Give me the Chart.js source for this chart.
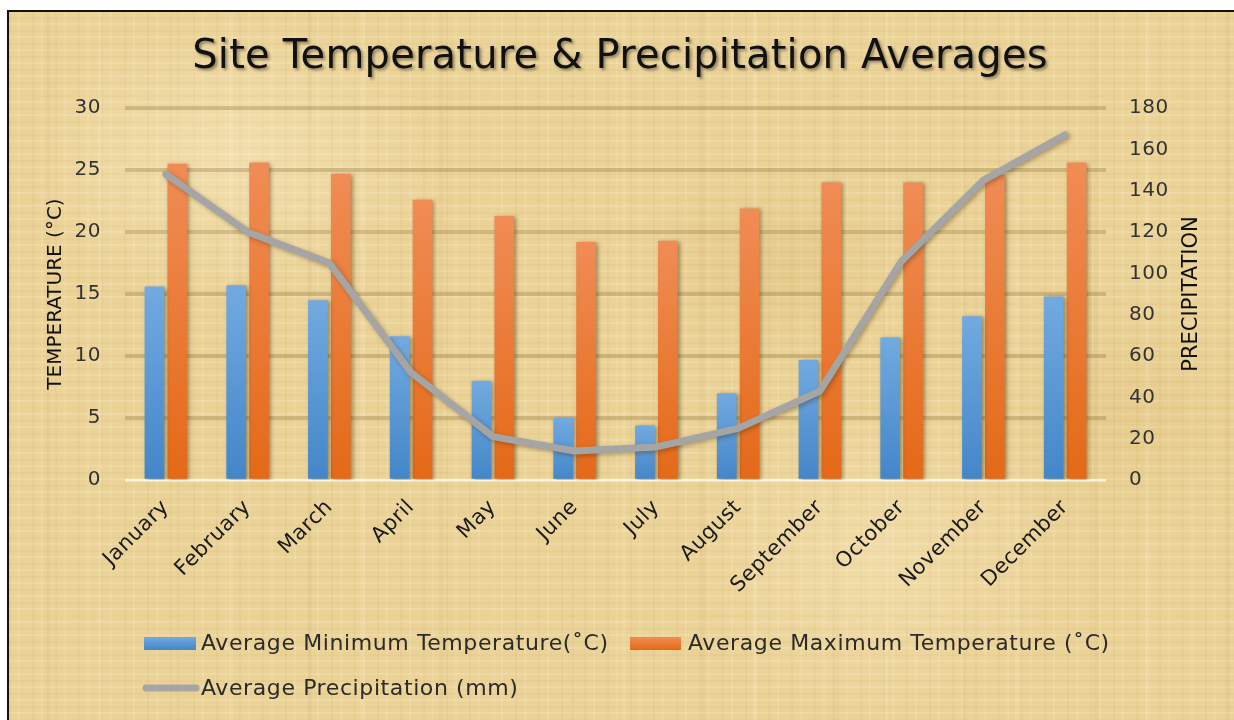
<!DOCTYPE html>
<html>
<head>
<meta charset="utf-8">
<title>Site Temperature &amp; Precipitation Averages</title>
<script src="https://cdn.jsdelivr.net/npm/chart.js@4.4.1/dist/chart.umd.min.js"></script>
<style>
  html, body { margin: 0; padding: 0; background: #ffffff; }
  body { width: 1234px; height: 720px; overflow: hidden; position: relative; }
  #paper {
    position: absolute; left: 7px; top: 10px; width: 1240px; height: 730px;
    box-sizing: border-box;
    border-left: 2px solid #111; border-top: 2px solid #111;
    background-color: #ebd398;
    background-image:
      radial-gradient(ellipse 300px 200px at 18% 20%, rgba(255,245,215,0.35), transparent 70%),
      radial-gradient(ellipse 260px 220px at 70% 75%, rgba(255,240,205,0.30), transparent 70%),
      radial-gradient(ellipse 220px 160px at 62% 35%, rgba(200,160,80,0.18), transparent 70%),
      radial-gradient(ellipse 240px 200px at 90% 55%, rgba(205,165,85,0.16), transparent 70%),
      repeating-linear-gradient(90deg, transparent 0 37px, rgba(175,135,60,0.07) 37px 41px, transparent 41px 89px, rgba(255,248,225,0.12) 89px 93px, transparent 93px 131px),
      repeating-linear-gradient(0deg, rgba(255,250,230,0.16) 0 2px, transparent 2px 6px, rgba(170,130,60,0.06) 6px 8px, transparent 8px 13px),
      repeating-linear-gradient(90deg, rgba(170,130,60,0.07) 0 2px, transparent 2px 9px, rgba(255,250,230,0.12) 9px 11px, transparent 11px 23px);
  }
  #c { position: absolute; left: 0; top: 0; }
</style>
</head>
<body>
<div id="paper"></div>
<canvas id="c" width="1234" height="720"></canvas>
<script>
// Monthly averages for the site
const months = ['January', 'February', 'March', 'April', 'May', 'June',
                'July', 'August', 'September', 'October', 'November', 'December'];
const minTemp = [15.6, 15.7, 14.5, 11.6, 8.0, 5.0, 4.4, 7.0, 9.7, 11.5, 13.2, 14.8];
const maxTemp = [25.5, 25.6, 24.7, 22.6, 21.3, 19.2, 19.3, 21.9, 24.0, 24.0, 24.6, 25.6];
const precipitation = [148, 120, 105, 52, 21, 14, 16, 25, 43, 106, 145, 167];

// Axis ranges
const tempAxis = { min: 0, max: 30, step: 5 };
const precipAxis = { min: 0, max: 180, step: 20 };

const seriesNames = ['Average Minimum Temperature(\u02DAC)',
                     'Average Maximum Temperature (\u02DAC)',
                     'Average Precipitation (mm)'];

const FONT = "'DejaVu Sans', Verdana, sans-serif";
const BLUE = ['#72aae0', '#4386c8'];
const ORANGE = ['#f08c55', '#e46917'];
const GREY = '#a5a5a5';

// Vertical gradient running from the top of each bar down to the baseline
function barFill(colors) {
  return (ctx) => {
    const chart = ctx.chart;
    if (!chart.chartArea || ctx.type !== 'data') return colors[1];
    const ys = chart.scales.y;
    const yTop = ys.getPixelForValue(ctx.dataset.data[ctx.dataIndex]);
    const yBase = ys.getPixelForValue(0);
    if (!isFinite(yTop) || !isFinite(yBase) || yTop === yBase) return colors[1];
    const g = chart.ctx.createLinearGradient(0, yTop, 0, yBase);
    g.addColorStop(0, colors[0]);
    g.addColorStop(1, colors[1]);
    return g;
  };
}

// Soft drop shadow under every series
const shadowPlugin = {
  id: 'shadow',
  beforeDatasetDraw(chart, args) {
    const c = chart.ctx;
    c.save();
    const isLine = chart.data.datasets[args.index].type === 'line';
    c.shadowColor = isLine ? 'rgba(60,40,10,0.35)' : 'rgba(60,40,10,0.45)';
    c.shadowBlur = 4;
    c.shadowOffsetX = 2;
    c.shadowOffsetY = isLine ? 2 : 1;
  },
  afterDatasetDraw(chart) {
    chart.ctx.restore();
  }
};

// Slightly airier lettering for the month labels
const spacingPlugin = {
  id: 'spacing',
  beforeDraw(chart) { chart.ctx.save(); chart.ctx.letterSpacing = '0.5px'; },
  beforeDatasetsDraw(chart) { chart.ctx.restore(); }
};

// Title, axis titles and the two-row legend
const decorPlugin = {
  id: 'decor',
  afterDraw(chart) {
    const c = chart.ctx;
    const area = chart.chartArea;
    const midY = (area.top + area.bottom) / 2;

    // chart title with shadow
    c.save();
    c.font = '40px ' + FONT;
    c.letterSpacing = '0.2px';
    c.textAlign = 'center';
    c.textBaseline = 'alphabetic';
    c.shadowColor = 'rgba(0,0,0,0.4)';
    c.shadowBlur = 3;
    c.shadowOffsetX = 2;
    c.shadowOffsetY = 2;
    c.fillStyle = '#111';
    c.fillText('Site Temperature & Precipitation Averages', 620, 68);
    c.restore();

    // axis titles, both reading bottom to top
    c.save();
    c.fillStyle = '#111';
    c.textAlign = 'center';
    c.textBaseline = 'middle';
    c.font = '20px ' + FONT;
    c.translate(56, midY);
    c.rotate(-Math.PI / 2);
    c.fillText('TEMPERATURE (\u00B0C)', 0, 0);
    c.restore();

    c.save();
    c.fillStyle = '#111';
    c.textAlign = 'center';
    c.textBaseline = 'middle';
    c.font = '21px ' + FONT;
    c.translate(1192, midY);
    c.rotate(-Math.PI / 2);
    c.fillText('PRECIPITATION', 0, 0);
    c.restore();

    // legend
    c.save();
    const swatch = (x, y, w, h, colors) => {
      const g = c.createLinearGradient(0, y, 0, y + h);
      g.addColorStop(0, colors[0]);
      g.addColorStop(1, colors[1]);
      c.fillStyle = g;
      c.fillRect(x, y, w, h);
    };
    swatch(144, 637, 52, 13, BLUE);
    swatch(630, 637, 51, 13, ORANGE);
    c.strokeStyle = GREY;
    c.lineWidth = 7;
    c.lineCap = 'round';
    c.beginPath();
    c.moveTo(146, 688);
    c.lineTo(196, 688);
    c.stroke();

    c.font = '22px ' + FONT;
    c.letterSpacing = '0.6px';
    c.textAlign = 'left';
    c.textBaseline = 'middle';
    c.fillStyle = '#2b2b2b';
    c.fillText(seriesNames[0], 201, 644);
    c.fillText(seriesNames[1], 688, 644);
    c.fillText(seriesNames[2], 201, 689);
    c.restore();
  }
};

new Chart(document.getElementById('c'), {
  data: {
    labels: months,
    datasets: [
      {
        type: 'line',
        label: seriesNames[2],
        data: precipitation,
        yAxisID: 'y1',
        borderColor: GREY,
        borderWidth: 7,
        borderCapStyle: 'round',
        borderJoinStyle: 'round',
        pointRadius: 0,
        tension: 0,
        fill: false,
        order: 0
      },
      {
        type: 'bar',
        label: seriesNames[0],
        data: minTemp,
        yAxisID: 'y',
        backgroundColor: barFill(BLUE),
        categoryPercentage: 0.56,
        barPercentage: 0.86,
        order: 1
      },
      {
        type: 'bar',
        label: seriesNames[1],
        data: maxTemp,
        yAxisID: 'y',
        backgroundColor: barFill(ORANGE),
        categoryPercentage: 0.56,
        barPercentage: 0.86,
        order: 1
      }
    ]
  },
  options: {
    responsive: false,
    animation: false,
    layout: { padding: { top: 108, bottom: 120, left: 10, right: 10 } },
    plugins: {
      legend: { display: false },
      title: { display: false },
      tooltip: { enabled: false }
    },
    scales: {
      x: {
        grid: { display: false, drawTicks: false },
        border: { display: false },
        ticks: {
          autoSkip: false,
          minRotation: 45,
          maxRotation: 45,
          padding: 15,
          color: '#1a1a1a',
          font: { family: FONT, size: 21 }
        },
        afterFit(scale) { scale.height = 120; }
      },
      y: {
        position: 'left',
        min: tempAxis.min,
        max: tempAxis.max,
        ticks: {
          stepSize: tempAxis.step,
          padding: 24,
          color: '#333',
          font: { family: FONT, size: 20 }
        },
        grid: {
          drawTicks: false,
          color: (ctx) => ctx.tick && ctx.tick.value === 0 ? 'rgba(255,248,232,0.9)' : 'rgba(140,108,55,0.3)',
          lineWidth: (ctx) => ctx.tick && ctx.tick.value === 0 ? 2.5 : 4
        },
        border: { display: false },
        afterFit(scale) { scale.width = 115; }
      },
      y1: {
        position: 'right',
        min: precipAxis.min,
        max: precipAxis.max,
        ticks: {
          stepSize: precipAxis.step,
          padding: 23,
          color: '#333',
          font: { family: FONT, size: 20 }
        },
        grid: { display: false, drawTicks: false },
        border: { display: false },
        afterFit(scale) { scale.width = 118; }
      }
    }
  },
  plugins: [spacingPlugin, shadowPlugin, decorPlugin]
});
</script>
</body>
</html>
